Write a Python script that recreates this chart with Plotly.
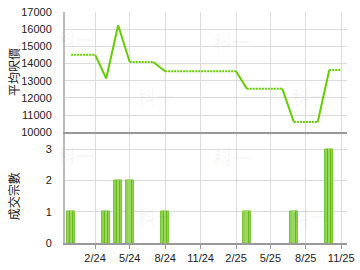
import plotly.graph_objects as go
from datetime import date

# Data: months with transactions
months = ["2023-12", "2024-03", "2024-04", "2024-05", "2024-08", "2025-03", "2025-07", "2025-10"]
avg_price = [14520, 13130, 16230, 14090, 13550, 12540, 10600, 13630]
deals = [1, 1, 2, 2, 1, 1, 1, 3]
end_month = "2025-11"
tick_months = ["2024-02", "2024-05", "2024-08", "2024-11", "2025-02", "2025-05", "2025-08", "2025-11"]
tick_labels = ["2/24", "5/24", "8/24", "11/24", "2/25", "5/25", "8/25", "11/25"]
price_ticks = [10000, 11000, 12000, 13000, 14000, 15000, 16000, 17000]
price_labels = [str(v) for v in price_ticks]
deal_ticks = [0, 1, 2, 3]


def to_date(m):
    y, mo = m.split("-")
    return date(int(y), int(mo), 1)


def prev_month(d):
    return date(d.year - 1, 12, 1) if d.month == 1 else date(d.year, d.month - 1, 1)


GREEN = "#66cc00"
fig = go.Figure()

# Build solid/dotted segments from the data (carry-forward dotted)
dates = [to_date(m) for m in months]
for i in range(1, len(dates)):
    p, c = dates[i - 1], dates[i]
    pm = prev_month(c)
    if pm > p:
        fig.add_trace(go.Scatter(x=[p, pm], y=[avg_price[i - 1]] * 2, mode="lines",
                                 line=dict(color=GREEN, width=2, dash="2px,1px"),
                                 xaxis="x", yaxis="y", showlegend=False, hoverinfo="skip"))
        start = pm
    else:
        start = p
    fig.add_trace(go.Scatter(x=[start, c], y=[avg_price[i - 1], avg_price[i]], mode="lines",
                             line=dict(color=GREEN, width=2),
                             xaxis="x", yaxis="y", showlegend=False, hoverinfo="skip"))
fig.add_trace(go.Scatter(x=[dates[-1], to_date(end_month)], y=[avg_price[-1]] * 2, mode="lines",
                         line=dict(color=GREEN, width=2, dash="2px,1px"),
                         xaxis="x", yaxis="y", showlegend=False, hoverinfo="skip"))

# Bars (layered to mimic gradient)
day_ms = 86400000
fig.add_trace(go.Bar(x=dates, y=deals, width=20 * day_ms, xaxis="x2", yaxis="y2",
                     marker=dict(color="#8fd34f", line=dict(color="#7cc63c", width=1)),
                     showlegend=False, hoverinfo="skip"))
fig.add_trace(go.Bar(x=dates, y=deals, width=11 * day_ms, xaxis="x2", yaxis="y2",
                     marker=dict(color="#66b81c", line=dict(width=0)),
                     showlegend=False, hoverinfo="skip"))
fig.add_trace(go.Bar(x=dates, y=deals, width=5 * day_ms, xaxis="x2", yaxis="y2",
                     marker=dict(color="#9ad860", line=dict(width=0)),
                     showlegend=False, hoverinfo="skip"))

xr = [date(2023, 11, 15), date(2025, 11, 16)]
tickvals = [to_date(m) for m in tick_months]
font = dict(family="Liberation Sans, Arial, sans-serif", size=11, color="#222")

common_x = dict(range=xr, type="date", tickvals=tickvals, showgrid=True, gridcolor="#dcdcdc",
                gridwidth=1, zeroline=False, showline=True, linecolor="#999", linewidth=2)

fig.update_layout(
    width=360, height=270,
    margin=dict(l=65, r=6, t=7, b=27),
    paper_bgcolor="white", plot_bgcolor="white",
    barmode="overlay", bargap=0,
    font=font,
    xaxis=dict(**common_x, anchor="y", showticklabels=False, ticks=""),
    yaxis=dict(domain=[0.479, 1], range=[10000, 17000], tickvals=price_ticks, ticktext=price_labels,
               showgrid=True, gridcolor="#dcdcdc", zeroline=False, showline=True,
               linecolor="#bbb", linewidth=2, ticklabelstandoff=9, tickfont=font),
    xaxis2=dict(**common_x, anchor="y2", ticktext=tick_labels, ticks="outside",
                ticklen=4, tickcolor="#999", tickfont=font, ticklabeloverflow="allow"),
    yaxis2=dict(domain=[0, 0.470], range=[0, 3.47], tickvals=deal_ticks,
                showgrid=True, gridcolor="#dcdcdc", zeroline=False, showline=True,
                linecolor="#bbb", linewidth=2, ticklabelstandoff=9, tickfont=font),
)

pw, ph = 360 - 65 - 6, 270 - 7 - 27


def px_x(x):
    return (x - 65) / pw


def px_y(y):
    return (270 - y - 27) / ph


title_font = dict(family="Noto Sans CJK TC, Noto Sans CJK SC, sans-serif", size=12, color="#222")
fig.add_annotation(text="平均呎價", textangle=-90, x=px_x(12), y=px_y(68), xref="paper", yref="paper",
                   xanchor="center", yanchor="middle", showarrow=False, font=title_font)
fig.add_annotation(text="成交宗數", textangle=-90, x=px_x(12), y=px_y(195), xref="paper", yref="paper",
                   xanchor="center", yanchor="middle", showarrow=False, font=title_font)

# faint watermarks
wm_font = dict(family="Noto Sans CJK TC, sans-serif", size=18, color="rgba(0,0,0,0.035)")
for px, py in [(76, 35), (158, 93), (236, 37), (316, 93), (76, 153), (158, 215), (236, 155), (316, 215)]:
    fig.add_annotation(text="<b>科一</b>", x=px_x(px), y=px_y(py), xanchor="center", yanchor="middle",
                       xref="paper", yref="paper", showarrow=False, font=wm_font)

fig.write_html("out.html")
